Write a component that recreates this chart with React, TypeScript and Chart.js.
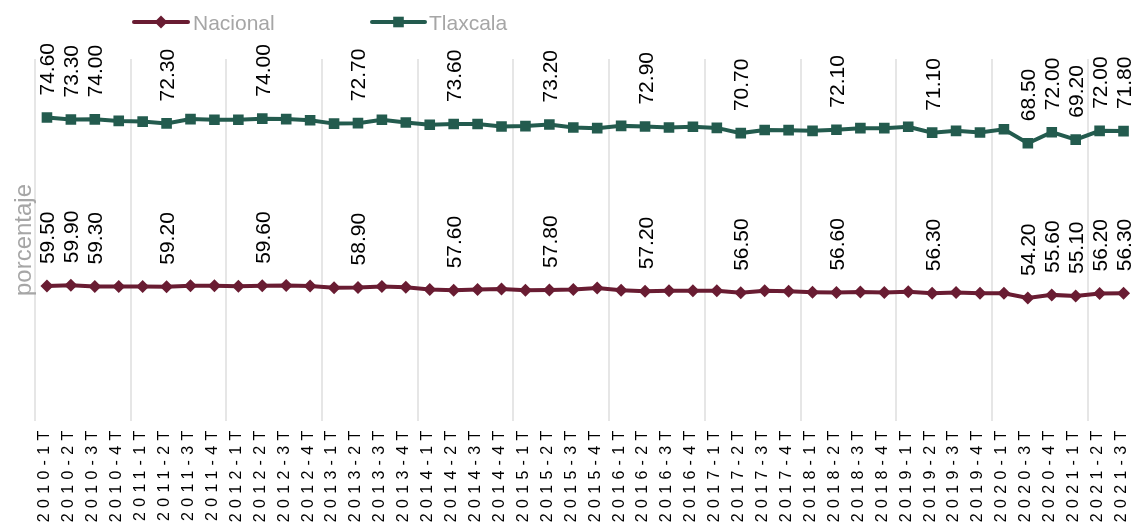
import React, { useEffect, useRef } from "react";
import { Chart, registerables } from "chart.js";

Chart.register(...registerables);

const categories = [
  "2010-1T", "2010-2T", "2010-3T", "2010-4T",
  "2011-1T", "2011-2T", "2011-3T", "2011-4T",
  "2012-1T", "2012-2T", "2012-3T", "2012-4T",
  "2013-1T", "2013-2T", "2013-3T", "2013-4T",
  "2014-1T", "2014-2T", "2014-3T", "2014-4T",
  "2015-1T", "2015-2T", "2015-3T", "2015-4T",
  "2016-1T", "2016-2T", "2016-3T", "2016-4T",
  "2017-1T", "2017-2T", "2017-3T", "2017-4T",
  "2018-1T", "2018-2T", "2018-3T", "2018-4T",
  "2019-1T", "2019-2T", "2019-3T", "2019-4T",
  "2020-1T", "2020-3T", "2020-4T",
  "2021-1T", "2021-2T", "2021-3T",
];

const nacional = [
  59.5, 59.9, 59.3, 59.3, 59.3, 59.2, 59.6, 59.6, 59.4, 59.6, 59.7, 59.5, 58.8, 58.9,
  59.3, 59.0, 58.0, 57.6, 58.0, 58.2, 57.7, 57.8, 58.0, 58.6, 57.7, 57.2, 57.4, 57.4, 57.4, 56.5,
  57.4, 57.2, 56.8, 56.6, 56.9, 56.6, 57.0, 56.3, 56.7, 56.3, 56.3, 54.2, 55.6, 55.1, 56.2, 56.3,
];

const tlaxcala = [
  74.6, 73.3, 74.0, 73.3, 73.0, 72.3, 73.8, 73.5, 73.7, 74.0, 73.7, 73.4, 72.6, 72.7,
  73.8, 72.9, 72.9, 73.6, 73.2, 71.9, 72.6, 73.2, 71.7, 70.8, 72.7, 72.9, 72.3, 72.6, 72.1, 70.7,
  71.2, 71.3, 71.4, 72.1, 72.5, 72.8, 73.0, 71.1, 71.5, 71.2, 72.6, 68.5, 72.0, 69.2, 72.0, 71.8,
];

const labeledIndices = [0, 1, 2, 5, 9, 13, 17, 21, 25, 29, 33, 37, 41, 42, 43, 44, 45];

const seriesNames = ["Nacional", "Tlaxcala"];
const seriesColors = ["#691C32", "#235B4E"];
const seriesMarkers = ["rectRot", "rect"];
const axisTitle = "porcentaje";

const FONT = '"Liberation Sans", Arial, sans-serif';

function drawMarker(ctx: CanvasRenderingContext2D, style: string, x: number, y: number, r: number) {
  ctx.beginPath();
  if (style === "rect") {
    const s = Math.SQRT1_2 * r;
    ctx.rect(x - s, y - s, 2 * s, 2 * s);
  } else {
    ctx.moveTo(x - r, y);
    ctx.lineTo(x, y - r);
    ctx.lineTo(x + r, y);
    ctx.lineTo(x, y + r);
    ctx.closePath();
  }
  ctx.fill();
}

export default function App() {
  const ref = useRef<HTMLCanvasElement>(null);

  useEffect(() => {
    const canvas = ref.current;
    if (!canvas) return;

    const spacingPlugin = {
      id: "tickSpacing",
      beforeDraw(chart: any) {
        (chart.ctx as any).letterSpacing = "5.3px";
      },
      beforeDatasetsDraw(chart: any) {
        (chart.ctx as any).letterSpacing = "0px";
      },
    };

    const valueLabelPlugin = {
      id: "valueLabels",
      afterDatasetsDraw(chart: any) {
        const ctx: CanvasRenderingContext2D = chart.ctx;
        ctx.save();
        (ctx as any).letterSpacing = "0px";
        ctx.font = `21px ${FONT}`;
        ctx.fillStyle = "#000000";
        ctx.textAlign = "left";
        ctx.textBaseline = "alphabetic";
        chart.data.datasets.forEach((ds: any, di: number) => {
          const meta = chart.getDatasetMeta(di);
          labeledIndices.forEach((i) => {
            const el = meta.data[i];
            if (!el) return;
            const v = ds.data[i] as number;
            ctx.save();
            ctx.translate(el.x + 7.5, el.y - 22);
            ctx.rotate(-Math.PI / 2);
            ctx.fillText(v.toFixed(2), 0, 0);
            ctx.restore();
          });
        });
        ctx.restore();
      },
    };

    const legendPlugin = {
      id: "customLegend",
      afterDraw(chart: any) {
        const ctx: CanvasRenderingContext2D = chart.ctx;
        ctx.save();
        (ctx as any).letterSpacing = "0px";
        const items = [
          { x0: 134, x1: 188, tx: 193, r: 6.5 },
          { x0: 372, x1: 425, tx: 429, r: 7.5 },
        ];
        const yc = 22;
        items.forEach((it, i) => {
          ctx.strokeStyle = seriesColors[i];
          ctx.fillStyle = seriesColors[i];
          ctx.lineWidth = 4;
          ctx.lineCap = "round";
          ctx.beginPath();
          ctx.moveTo(it.x0, yc);
          ctx.lineTo(it.x1, yc);
          ctx.stroke();
          drawMarker(ctx, seriesMarkers[i], (it.x0 + it.x1) / 2, yc, it.r);
          ctx.fillStyle = "#A6A6A6";
          ctx.font = `21px ${FONT}`;
          ctx.textAlign = "left";
          ctx.textBaseline = "alphabetic";
          ctx.fillText(seriesNames[i], it.tx, 29.5);
        });
        // y-axis title
        ctx.save();
        ctx.translate(30.5, 240);
        ctx.rotate(-Math.PI / 2);
        ctx.fillStyle = "#A6A6A6";
        ctx.font = `24px ${FONT}`;
        ctx.textAlign = "center";
        ctx.textBaseline = "alphabetic";
        ctx.fillText(axisTitle, 0, 0);
        ctx.restore();
        ctx.restore();
      },
    };

    const chart = new Chart(canvas, {
      type: "line",
      data: {
        labels: categories,
        datasets: [
          {
            label: seriesNames[0],
            data: nacional,
            borderColor: seriesColors[0],
            backgroundColor: seriesColors[0],
            borderWidth: 4,
            pointStyle: "rectRot",
            pointRadius: 6.5,
            pointBorderWidth: 0,
            pointBackgroundColor: seriesColors[0],
            tension: 0,
            fill: false,
          },
          {
            label: seriesNames[1],
            data: tlaxcala,
            borderColor: seriesColors[1],
            backgroundColor: seriesColors[1],
            borderWidth: 4,
            pointStyle: "rect",
            pointRadius: 7.5,
            pointBorderWidth: 0,
            pointBackgroundColor: seriesColors[1],
            tension: 0,
            fill: false,
          },
        ],
      },
      options: {
        animation: false,
        responsive: false,
        maintainAspectRatio: false,
        layout: { padding: { left: 35, right: 0, top: 59, bottom: 0 } },
        plugins: {
          legend: { display: false },
          tooltip: { enabled: false },
          title: { display: false },
        },
        scales: {
          x: {
            type: "category",
            offset: true,
            grid: {
              offset: true,
              drawTicks: false,
              lineWidth: 2,
              color: (c: any) => (typeof c.index === "number" && c.index % 4 === 0 ? "#E6E6E6" : "rgba(0,0,0,0)"),
            },
            border: { display: false },
            ticks: {
              autoSkip: false,
              minRotation: 90,
              maxRotation: 90,
              padding: 5,
              labelOffset: -2,
              color: "#000000",
              font: { size: 16, family: FONT },
            },
            afterFit: (s: any) => {
              s.height = 104.5;
              s.paddingLeft = 0;
              s.paddingRight = 0;
            },
          },
          y: {
            display: false,
            stacked: true,
            min: 0,
            max: 160,
          },
        },
      },
      plugins: [spacingPlugin, valueLabelPlugin, legendPlugin],
    });

    return () => {
      chart.destroy();
    };
  }, []);

  return (
    <div
      style={{
        position: "fixed",
        left: 0,
        top: 0,
        width: 1139,
        height: 525,
        overflow: "hidden",
        background: "#ffffff",
      }}
    >
      <canvas ref={ref} width={1143} height={525} style={{ display: "block" }} />
    </div>
  );
}
